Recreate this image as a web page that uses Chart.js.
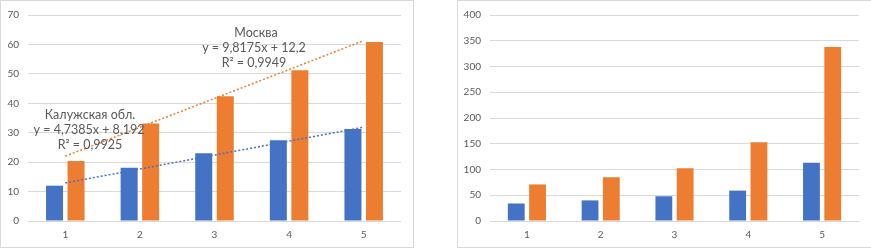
<!DOCTYPE html>
<html>
<head>
<meta charset="utf-8">
<script src="https://cdn.jsdelivr.net/npm/chart.js@4.4.1/dist/chart.umd.min.js"></script>
<style>
    body { margin: 0; background: #fff; }
    .frame { position: absolute; top: 0; height: 248px; border: 1px solid #d9d9d9; box-sizing: border-box; }
    canvas { position: absolute; top: 0; }
</style>
</head>
<body>
<div class="frame" style="left:0;width:414px"></div>
<div class="frame" style="left:457px;width:420px"></div>
<canvas id="left" width="414" height="249" style="left:0"></canvas>
<canvas id="right" width="415" height="249" style="left:456px"></canvas>
<script>
const categories = ['1', '2', '3', '4', '5'];
const seriesNames = ['Калужская обл.', 'Москва'];

// left chart
const kalugaLeft = [12, 18.1, 23, 27.4, 31.3];
const moscowLeft = [20.4, 33.1, 42.4, 51.2, 60.8];
// trendlines (slope, intercept) as printed on the chart
const kalugaTrend = [4.7385, 8.192];
const moscowTrend = [9.8175, 12.2];
const kalugaR2 = '0,9925';
const moscowR2 = '0,9949';

// right chart
const kalugaRight = [34, 40, 48, 59, 113];
const moscowRight = [71, 85, 102.5, 153, 338];

const BLUE = '#4472C4';
const ORANGE = '#ED7D31';
const TEXT = '#595959';
const GRID = '#d9d9d9';
const FONT = 'Lato, "Open Sans", sans-serif';

function trendValues(t) {
    return categories.map((c, i) => t[0] * (i + 1) + t[1]);
}

function fmt(n) {
    return String(n).replace('.', ',');
}

function barSet(label, data, color) {
    return {
        type: 'bar',
        label: label,
        data: data,
        backgroundColor: color,
        categoryPercentage: 0.577,
        barPercentage: 0.79,
        order: 2
    };
}

function trendSet(label, t, color) {
    return {
        type: 'line',
        label: label,
        data: trendValues(t),
        borderColor: color,
        borderWidth: 1.5,
        borderDash: [2, 2],
        pointRadius: 0,
        fill: false,
        order: 1
    };
}

function scalesFor(max, step, yWidth) {
    return {
        x: {
            offset: true,
            grid: { display: false, drawTicks: false },
            border: { display: false },
            ticks: { color: TEXT, font: { family: FONT, size: 10 }, padding: 8 },
            afterFit: (s) => { s.height = 28; }
        },
        y: {
            min: 0,
            max: max,
            grid: { color: GRID, drawTicks: false },
            border: { display: false },
            ticks: { stepSize: step, color: TEXT, font: { family: FONT, size: 10 }, padding: 9 },
            afterFit: (s) => { s.width = yWidth; }
        }
    };
}

// equation labels of the trendlines
const trendLabels = {
    id: 'trendLabels',
    afterDatasetsDraw(chart) {
        const { ctx } = chart;
        ctx.save();
        ctx.font = '12.5px ' + FONT;
        ctx.fillStyle = TEXT;
        ctx.textAlign = 'center';
        ctx.textBaseline = 'middle';
        ctx.fillText(seriesNames[1], 256, 33);
        ctx.fillText('y = ' + fmt(moscowTrend[0]) + 'x + ' + fmt(moscowTrend[1]), 254, 48);
        ctx.fillText('R² = ' + moscowR2, 254, 63);
        ctx.fillText(seriesNames[0], 90, 115);
        ctx.fillText('y = ' + fmt(kalugaTrend[0]) + 'x + ' + fmt(kalugaTrend[1]), 89, 130);
        ctx.fillText('R² = ' + kalugaR2, 90, 145);
        ctx.restore();
    }
};

new Chart(document.getElementById('left').getContext('2d'), {
    data: {
        labels: categories,
        datasets: [
            barSet(seriesNames[0], kalugaLeft, BLUE),
            barSet(seriesNames[1], moscowLeft, ORANGE),
            trendSet(seriesNames[0], kalugaTrend, BLUE),
            trendSet(seriesNames[1], moscowTrend, ORANGE)
        ]
    },
    options: {
        responsive: false,
        animation: false,
        layout: { padding: { top: 13, right: 13, left: 0, bottom: 0 } },
        plugins: { legend: { display: false }, tooltip: { enabled: false } },
        scales: scalesFor(70, 10, 28)
    },
    plugins: [trendLabels]
});

new Chart(document.getElementById('right').getContext('2d'), {
    data: {
        labels: categories,
        datasets: [
            barSet(seriesNames[0], kalugaRight, BLUE),
            barSet(seriesNames[1], moscowRight, ORANGE)
        ]
    },
    options: {
        responsive: false,
        animation: false,
        layout: { padding: { top: 13, right: 12, left: 0, bottom: 0 } },
        plugins: { legend: { display: false }, tooltip: { enabled: false } },
        scales: scalesFor(400, 50, 34)
    }
});
</script>
</body>
</html>
